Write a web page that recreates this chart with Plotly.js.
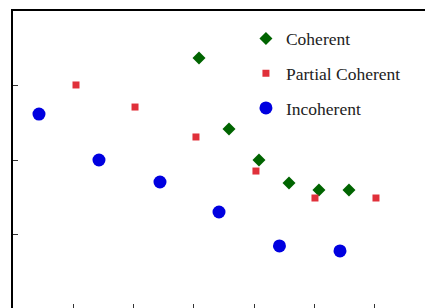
<!DOCTYPE html>
<html>
<head>
<meta charset="utf-8">
<script src="https://cdn.plot.ly/plotly-3.0.1.min.js"></script>
<style>
html,body{margin:0;padding:0;overflow:hidden;background:#fff;}
#chart{width:445px;height:320px;}
</style>
</head>
<body>
<div id="chart"></div>
<script>
// Data (axis units: x ticks every 1, y ticks every 1)
const seriesNames = ["Coherent", "Partial Coherent", "Incoherent"];

const coherentX = [3.085, 3.583, 4.08, 4.578, 5.075, 5.573];
const coherentY = [3.369, 2.416, 2.0, 1.691, 1.597, 1.597];

const partialX = [1.045, 2.024, 3.035, 4.03, 5.009, 6.021];
const partialY = [3.007, 2.711, 2.309, 1.852, 1.49, 1.49];

const incoherentX = [0.431, 1.426, 2.438, 3.417, 4.42, 5.424];
const incoherentY = [2.617, 2.0, 1.705, 1.302, 0.846, 0.779];

const traces = [
  {x: coherentX, y: coherentY, name: seriesNames[0], legendgroup: "a", type: "scatter", mode: "markers",
   marker: {symbol: "diamond", size: 10, color: "#006400"}},
  {x: partialX, y: partialY, name: seriesNames[1], legendgroup: "b", type: "scatter", mode: "markers",
   marker: {symbol: "square", size: 7, color: "#e0303a"}},
  {x: incoherentX, y: incoherentY, name: seriesNames[2], legendgroup: "c", type: "scatter", mode: "markers",
   marker: {symbol: "circle", size: 13, color: "#0000e0"}}
];

const axisCommon = {
  showline: true, linecolor: "#000", linewidth: 2, mirror: true,
  ticks: "inside", ticklen: 5, tickwidth: 1, tickcolor: "#333",
  showticklabels: false, showgrid: false, zeroline: false, dtick: 1, tick0: 0
};

const layout = {
  width: 445, height: 320,
  margin: {l: 13, r: 10, t: 11, b: 11},
  paper_bgcolor: "#fff", plot_bgcolor: "#fff",
  showlegend: true,
  legend: {x: 0.552, y: 0.968, xanchor: "left", yanchor: "top", bgcolor: "rgba(0,0,0,0)",
           font: {family: "Liberation Serif", size: 17.5, color: "#222"}, tracegroupgap: 9},
  xaxis: Object.assign({}, axisCommon, {range: [0, 7]}),
  yaxis: Object.assign({}, axisCommon, {range: [0, 4]})
};

Plotly.newPlot("chart", traces, layout, {displayModeBar: false, staticPlot: true});
</script>
</body>
</html>
